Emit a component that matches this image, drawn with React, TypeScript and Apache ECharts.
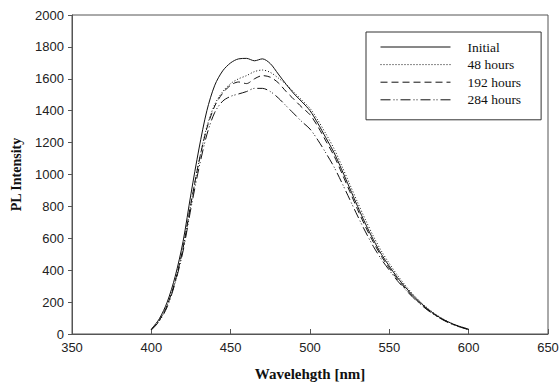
import React, { useEffect, useRef } from "react";
import * as echarts from "echarts";

const wavelengths = [400,405,410,415,420,425,430,435,440,445,450,455,460,465,470,475,480,485,490,495,500,505,510,515,520,525,530,535,540,545,550,555,560,565,570,575,580,585,590,595,600];
const initial = [30,95,200,360,580,880,1160,1400,1560,1650,1700,1725,1728,1713,1725,1695,1630,1565,1505,1455,1400,1320,1230,1140,1030,915,800,690,590,500,425,355,295,240,192,150,115,86,63,45,30];
const h48 = [28,85,180,330,540,820,1080,1300,1440,1520,1570,1600,1620,1645,1655,1640,1605,1565,1515,1465,1415,1340,1255,1165,1055,940,825,715,612,520,442,370,306,248,198,155,118,88,64,46,30];
const h192 = [28,85,180,330,540,820,1080,1290,1430,1510,1560,1580,1570,1600,1620,1610,1575,1520,1470,1420,1375,1300,1210,1120,1010,895,780,672,574,487,413,345,287,233,187,146,112,84,61,44,28];
const h284 = [25,80,170,320,520,790,1040,1250,1390,1460,1490,1505,1520,1540,1540,1520,1480,1430,1380,1330,1285,1215,1135,1050,950,845,740,640,548,468,400,335,280,228,183,143,110,82,59,42,27];
const seriesNames = ["Initial", "48 hours", "192 hours", "284 hours"];
const xTicks = { min: 350, max: 650, interval: 50 };
const yTicks = { min: 0, max: 2000, interval: 200 };

export default function App() {
  const ref = useRef<HTMLDivElement>(null);
  useEffect(() => {
    if (!ref.current) return;
    const chart = echarts.init(ref.current, null, { renderer: "svg" });
    const pair = (ys: number[]) => wavelengths.map((x, i) => [x, ys[i]]);
    const styles: any[] = [
      { type: "solid" },
      { type: [1, 2] },
      { type: [7, 4] },
      { type: [10, 3, 1, 2, 1, 3] },
    ];
    const datas = [initial, h48, h192, h284];
    chart.setOption({
      animation: false,
      backgroundColor: "#fff",
      grid: {
        left: 72, right: 11, top: 15, bottom: 49,
        containLabel: false, outerBoundsMode: "none",
        show: true, borderColor: "#555", borderWidth: 1,
      },
      legend: {
        orient: "vertical",
        left: 366,
        top: 32,
        width: 165,
        padding: [8, 20, 13, 14],
        itemWidth: 70,
        itemHeight: 14,
        itemGap: 3.6,
        borderColor: "#333",
        borderWidth: 1,
        backgroundColor: "#fff",
        itemStyle: { opacity: 0 },
        lineStyle: { width: 1 },
        textStyle: { fontFamily: "Liberation Serif", fontSize: 13.5, color: "#111", padding: [0, 0, 0, 12] },
        data: seriesNames,
      },
      xAxis: {
        type: "value",
        min: xTicks.min,
        max: xTicks.max,
        interval: xTicks.interval,
        name: "Wavelehgth [nm]",
        nameLocation: "middle",
        nameGap: 32,
        nameTextStyle: { fontFamily: "Liberation Serif", fontWeight: "bold", fontSize: 15, color: "#111" },
        axisLine: { lineStyle: { color: "#555" } },
        axisTick: { inside: true, length: 5, lineStyle: { color: "#555" } },
        axisLabel: { fontFamily: "Liberation Sans", fontSize: 13, color: "#222", margin: 7 },
        splitLine: { show: false },
      },
      yAxis: {
        type: "value",
        min: yTicks.min,
        max: yTicks.max,
        interval: yTicks.interval,
        name: "PL Intensity",
        nameLocation: "middle",
        nameGap: 49,
        nameTextStyle: { fontFamily: "Liberation Serif", fontWeight: "bold", fontSize: 14, color: "#111" },
        axisLine: { show: true, lineStyle: { color: "#555" } },
        axisTick: { show: true, inside: false, length: 4, lineStyle: { color: "#555" } },
        axisLabel: { fontFamily: "Liberation Sans", fontSize: 13, color: "#222", margin: 8, formatter: (v: number) => String(v) },
        splitLine: { show: false },
      },
      series: datas.map((d, i) => ({
        name: seriesNames[i],
        type: "line",
        data: pair(d),
        smooth: 0.3,
        symbol: "none",
        showSymbol: false,
        color: "#111",
        lineStyle: { color: "#111", width: 1, type: styles[i].type },
      })),
    });
    return () => chart.dispose();
  }, []);
  return <div ref={ref} style={{ position: "fixed", left: 0, top: 0, width: 559, height: 383 }} />;
}
